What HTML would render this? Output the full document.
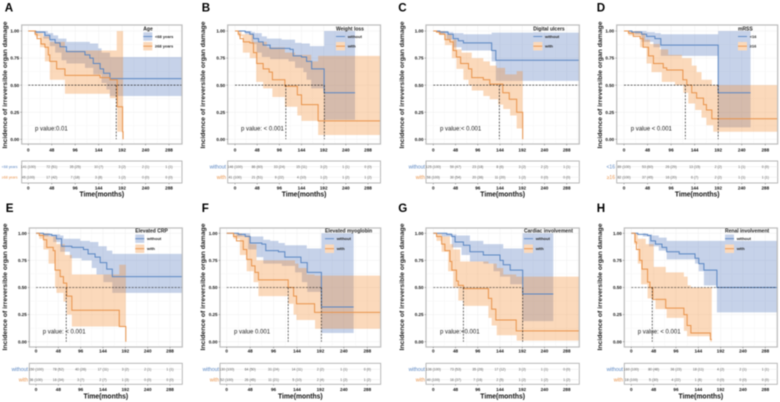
<!DOCTYPE html>
<html lang="en">
<head>
<meta charset="utf-8">
<title>Incidence of irreversible organ damage</title>
<style>
html,body{margin:0;padding:0;background:#fff;width:780px;height:402px;overflow:hidden}
svg{display:block;filter:blur(.42px)}
text{font-family:"Liberation Sans",sans-serif}
</style>
</head>
<body>
<svg id="figure" width="780" height="402" viewBox="0 0 780 402" xmlns="http://www.w3.org/2000/svg"></svg>
<script>
// Axis tick labels
const timeTicks = [0, 48, 96, 144, 192, 240, 288];
const incidenceTicks = [0, 0.25, 0.5, 0.75, 1];

// Panel A: Age
const A_blue_curve = [[0,1],[15,.99],[34,.96],[44,.92],[55,.89],[65,.855],[78,.81],[116,.78],[126,.75],[133,.70],[147,.65],[154,.61],[167,.56],[315,.55]];
const A_blue_upper = [[0,1],[40,.98],[51,.96],[61,.93],[78,.90],[126,.885],[143,.84],[150,.80],[167,.76],[315,.76]];
const A_blue_lower = [[0,1],[12,.98],[31,.93],[44,.86],[55,.80],[68,.73],[78,.70],[116,.66],[133,.60],[150,.52],[160,.46],[167,.40],[315,.40]];
const A_orange_curve = [[0,1],[14,.97],[18,.93],[26,.88],[34,.85],[41,.78],[44,.72],[58,.65],[75,.59],[147,.57],[167,.55],[182,.30],[193,.07],[194,0]];
const A_orange_upper = [[0,1],[18,.98],[30,.95],[44,.90],[75,.82],[181,1],[194,1]];
const A_orange_lower = [[0,1],[14,.95],[24,.85],[34,.72],[44,.55],[75,.42],[140,.42],[167,.38],[182,.07],[193,0],[194,0]];
const A_medians = [180];
const A_risk_blue = ["141 (100)","72 (51)","35 (25)","10 (7)","3 (2)","2 (1)","1 (1)"];
const A_risk_orange = ["45 (100)","17 (42)","7 (18)","3 (8)","1 (2)","0 (0)","0 (0)"];

// Panel B: Weight loss
const B_blue_curve = [[0,1],[22,.99],[32,.97],[40,.93],[51,.90],[61,.87],[76,.84],[119,.83],[126,.77],[144,.76],[155,.72],[166,.65],[193,.43],[260,.43]];
const B_blue_upper = [[0,1],[36,.99],[43,.98],[58,.95],[69,.93],[101,.92],[130,.89],[144,.885],[162,.86],[193,1],[260,1]];
const B_blue_lower = [[0,1],[22,.97],[36,.88],[47,.80],[58,.76],[76,.74],[116,.72],[130,.66],[148,.62],[155,.55],[165,.47],[193,.18],[260,.18]];
const B_orange_curve = [[0,1],[7,.97],[11,.93],[18,.90],[32,.89],[40,.80],[47,.70],[61,.65],[74,.62],[81,.55],[108,.49],[135,.41],[144,.32],[180,.17],[315,.17]];
const B_orange_upper = [[0,1],[14,.97],[40,.90],[69,.85],[108,.80],[130,.78],[165,.72],[180,.77],[315,.77]];
const B_orange_lower = [[0,1],[7,.95],[17,.80],[32,.75],[46,.53],[61,.47],[81,.39],[108,.30],[135,.22],[144,.17],[180,.04],[315,.04]];
const B_medians = [110,193.5];
const B_risk_blue = ["146 (100)","86 (60)","33 (24)","15 (11)","3 (2)","1 (1)","0 (0)"];
const B_risk_orange = ["41 (100)","21 (51)","9 (22)","4 (10)","1 (2)","1 (2)","1 (2)"];

// Panel C: Digital ulcers
const C_blue_curve = [[0,1],[14,.99],[32,.97],[43,.93],[54,.91],[65,.89],[126,.82],[135,.73],[315,.73]];
const C_blue_upper = [[0,1],[32,.99],[43,.98],[65,.97],[126,.985],[315,.985]];
const C_blue_lower = [[0,1],[14,.97],[29,.92],[43,.85],[61,.82],[126,.72],[135,.54],[315,.54]];
const C_orange_curve = [[0,1],[7,.99],[14,.97],[25,.92],[36,.90],[43,.82],[50,.76],[59,.70],[76,.65],[83,.57],[108,.55],[122,.51],[150,.43],[164,.37],[180,.25],[193,0]];
const C_orange_upper = [[0,1],[25,.97],[40,.92],[50,.83],[61,.80],[83,.75],[108,.72],[122,.68],[137,.66],[155,.60],[180,.63],[193,.63]];
const C_orange_lower = [[0,1],[11,.97],[25,.87],[40,.75],[50,.65],[65,.55],[76,.50],[83,.45],[108,.40],[122,.37],[140,.32],[151,.28],[166,.22],[180,.10],[193,0]];
const C_medians = [142.5];
const C_risk_blue = ["125 (100)","59 (47)","23 (18)","8 (6)","3 (2)","2 (2)","1 (1)"];
const C_risk_orange = ["56 (100)","30 (54)","20 (36)","11 (20)","1 (2)","0 (0)","0 (0)"];

// Panel D: mRSS
const D_blue_curve = [[0,1],[16,.99],[36,.97],[46,.95],[63,.93],[75,.87],[192,.43],[258,.43]];
const D_blue_upper = [[0,1],[46,.99],[63,.98],[75,.97],[192,1],[258,1]];
const D_blue_lower = [[0,1],[22,.97],[36,.90],[60,.85],[75,.77],[192,.11],[258,.11]];
const D_orange_curve = [[0,1],[9,.98],[19,.95],[33,.93],[39,.85],[50,.77],[60,.70],[80,.66],[87,.64],[120,.55],[128,.50],[138,.43],[148,.38],[162,.32],[168,.27],[179,.19],[315,.19]];
const D_orange_upper = [[0,1],[33,.98],[43,.92],[53,.88],[73,.83],[90,.78],[118,.75],[138,.68],[148,.62],[158,.55],[179,.50],[315,.50]];
const D_orange_lower = [[0,1],[9,.96],[33,.85],[46,.70],[56,.62],[77,.53],[104,.50],[121,.43],[131,.33],[145,.27],[158,.20],[168,.13],[182,.07],[315,.07]];
const D_medians = [125,192];
const D_risk_blue = ["89 (100)","53 (60)","26 (29)","13 (15)","2 (2)","1 (1)","0 (0)"];
const D_risk_orange = ["82 (100)","37 (45)","16 (20)","6 (7)","2 (2)","1 (1)","1 (1)"];

// Panel E: Elevated CRP
const E_blue_curve = [[0,1],[16,.99],[34,.98],[44,.95],[55,.88],[77,.87],[102,.85],[112,.81],[127,.78],[138,.73],[152,.67],[164,.60],[315,.60]];
const E_blue_upper = [[0,1],[30,.99],[52,.98],[59,.95],[95,.93],[116,.92],[134,.88],[152,.84],[164,.81],[315,.81]];
const E_blue_lower = [[0,1],[16,.97],[37,.92],[52,.83],[73,.77],[98,.75],[120,.68],[130,.62],[145,.55],[164,.45],[315,.45]];
const E_orange_curve = [[0,1],[7,.98],[16,.94],[23,.87],[37,.84],[41,.66],[52,.60],[59,.54],[66,.42],[77,.29],[179,.14],[193,0]];
const E_orange_upper = [[0,1],[27,.97],[44,.90],[62,.80],[77,.62],[179,.71],[193,.71]];
const E_orange_lower = [[0,1],[7,.95],[16,.85],[27,.72],[41,.50],[44,.45],[59,.37],[66,.25],[77,.14],[193,0]];
const E_medians = [65];
const E_risk_blue = ["150 (100)","78 (52)","40 (26)","17 (11)","3 (2)","2 (1)","1 (1)"];
const E_risk_orange = ["36 (100)","16 (34)","3 (7)","2 (7)","1 (3)","0 (0)","0 (0)"];

// Panel F: Elevated myoglobin
const F_blue_curve = [[0,1],[24,.99],[38,.97],[48,.91],[72,.90],[80,.84],[106,.83],[119,.78],[152,.73],[165,.64],[194,.32],[260,.32]];
const F_blue_upper = [[0,1],[48,.97],[75,.94],[89,.93],[106,.91],[119,.89],[164,.86],[194,1],[260,1]];
const F_blue_lower = [[0,1],[20,.97],[44,.85],[61,.78],[75,.72],[113,.70],[140,.64],[154,.55],[165,.46],[194,.08],[260,.08]];
const F_orange_curve = [[0,1],[14,.97],[20,.93],[34,.85],[41,.76],[51,.70],[58,.64],[65,.57],[126,.50],[137,.42],[143,.35],[180,.27],[315,.27]];
const F_orange_upper = [[0,1],[31,.98],[48,.90],[61,.75],[140,.72],[147,.68],[164,.62],[180,.61],[315,.61]];
const F_orange_lower = [[0,1],[14,.95],[27,.80],[41,.65],[55,.55],[65,.42],[126,.35],[137,.25],[143,.20],[181,.12],[315,.12]];
const F_medians = [126,194];
const F_risk_blue = ["130 (100)","64 (50)","31 (24)","14 (11)","2 (2)","1 (1)","0 (0)"];
const F_risk_orange = ["52 (100)","26 (45)","11 (21)","5 (10)","2 (4)","1 (2)","1 (2)"];

// Panel G: Cardiac involvement
const G_blue_curve = [[0,1],[29,.99],[40,.97],[47,.92],[65,.89],[79,.83],[108,.80],[144,.75],[151,.71],[166,.66],[193,.44],[259,.44]];
const G_blue_upper = [[0,1],[40,.99],[50,.98],[79,.93],[108,.90],[151,.86],[193,1],[259,1]];
const G_blue_lower = [[0,1],[18,.97],[40,.87],[61,.80],[79,.74],[108,.72],[130,.65],[144,.60],[166,.53],[193,.19],[259,.19]];
const G_orange_curve = [[0,1],[7,.97],[18,.90],[25,.84],[36,.74],[40,.66],[50,.56],[54,.52],[65,.49],[119,.40],[126,.30],[135,.20],[179,.10],[315,.10]];
const G_orange_upper = [[0,1],[18,.97],[36,.90],[43,.85],[58,.74],[119,.72],[137,.68],[151,.62],[179,.60],[315,.60]];
const G_orange_lower = [[0,1],[7,.93],[18,.83],[32,.65],[43,.50],[54,.38],[65,.33],[119,.22],[126,.15],[137,.06],[180,.01],[315,.01]];
const G_medians = [65,193];
const G_risk_blue = ["136 (100)","73 (53)","35 (26)","17 (12)","3 (2)","1 (1)","0 (0)"];
const G_risk_orange = ["40 (100)","16 (37)","7 (16)","2 (5)","1 (2)","1 (2)","1 (2)"];

// Panel H: Renal involvement
const H_blue_curve = [[0,1],[14,.99],[35,.98],[42,.93],[52,.90],[66,.87],[76,.83],[103,.81],[137,.77],[145,.72],[156,.66],[184,.50],[315,.50]];
const H_blue_upper = [[0,1],[31,.99],[45,.98],[59,.96],[76,.93],[315,.93]];
const H_blue_lower = [[0,1],[25,.97],[38,.88],[59,.84],[76,.76],[137,.72],[145,.65],[156,.52],[184,.27],[315,.27]];
const H_orange_curve = [[0,1],[8,.92],[11,.85],[18,.75],[23,.67],[35,.55],[40,.50],[46,.39],[74,.31],[113,.25],[120,.15],[128,.08],[170,.02],[173,.02]];
const H_orange_upper = [[0,1],[14,.95],[31,.90],[48,.69],[74,.64],[113,.60],[121,.52],[128,.50],[173,.50]];
const H_orange_lower = [[0,1],[6,.90],[14,.72],[21,.53],[35,.40],[52,.30],[76,.22],[113,.10],[120,.05],[170,0],[173,0]];
const H_medians = [45];
const H_risk_blue = ["160 (100)","80 (48)","36 (23)","18 (11)","4 (2)","2 (1)","1 (1)"];
const H_risk_orange = ["18 (100)","5 (30)","4 (22)","1 (6)","0 (0)","0 (0)","0 (0)"];

const panels = [
 {id:"A",title:"Age",names:["<68 years","≥68 years"],p:"p value:0.01",blue:[A_blue_curve,A_blue_upper,A_blue_lower],orange:[A_orange_curve,A_orange_upper,A_orange_lower],med:A_medians,risk:[A_risk_blue,A_risk_orange],
  row:0,left:21.7,right:182,x0:28.3,x288:169,letterX:4.7,yTitleX:7,legX:143.3,pX:35,hEnd:null,rowSize:3.6,rowEnd:17.5},
 {id:"B",title:"Weight loss",names:["without","with"],p:"p value: < 0.001",blue:[B_blue_curve,B_blue_upper,B_blue_lower],orange:[B_orange_curve,B_orange_upper,B_orange_lower],med:B_medians,risk:[B_risk_blue,B_risk_orange],
  row:0,left:227.7,right:380.5,x0:235,x288:368,letterX:201.7,yTitleX:205,legX:336,pX:241,hEnd:193.5,rowSize:5.2,rowEnd:226},
 {id:"C",title:"Digital ulcers",names:["without","with"],p:"p value:< 0.001",blue:[C_blue_curve,C_blue_upper,C_blue_lower],orange:[C_orange_curve,C_orange_upper,C_orange_lower],med:C_medians,risk:[C_risk_blue,C_risk_orange],
  row:0,left:426,right:579.3,x0:433.3,x288:566.7,letterX:398.3,yTitleX:404,legX:533.3,pX:440,hEnd:null,rowSize:5.2,rowEnd:425},
 {id:"D",title:"mRSS",names:["<16","≥16"],p:"p value < 0.001",blue:[D_blue_curve,D_blue_upper,D_blue_lower],orange:[D_orange_curve,D_orange_upper,D_orange_lower],med:D_medians,risk:[D_risk_blue,D_risk_orange],
  row:0,left:616.7,right:777.7,x0:624,x288:765.3,letterX:596.7,yTitleX:602,legX:738,pX:630.7,hEnd:192,rowSize:5,rowEnd:615},
 {id:"E",title:"Elevated CRP",names:["without","with"],p:"p value: < 0.001",blue:[E_blue_curve,E_blue_upper,E_blue_lower],orange:[E_orange_curve,E_orange_upper,E_orange_lower],med:E_medians,risk:[E_risk_blue,E_risk_orange],
  row:1,left:29.3,right:182.3,x0:36,x288:170,letterX:5.7,yTitleX:7,legX:135.3,pX:42.7,hEnd:null,rowSize:5.2,rowEnd:28},
 {id:"F",title:"Elevated myoglobin",names:["without","with"],p:"p value 0.001",blue:[F_blue_curve,F_blue_upper,F_blue_lower],orange:[F_orange_curve,F_orange_upper,F_orange_lower],med:F_medians,risk:[F_risk_blue,F_risk_orange],
  row:1,left:220,right:380.7,x0:226.7,x288:367.3,letterX:201.7,yTitleX:205,legX:325,pX:234,hEnd:194,rowSize:5.2,rowEnd:219},
 {id:"G",title:"Cardiac involvement",names:["without","with"],p:"p value:<0.001",blue:[G_blue_curve,G_blue_upper,G_blue_lower],orange:[G_orange_curve,G_orange_upper,G_orange_lower],med:G_medians,risk:[G_risk_blue,G_risk_orange],
  row:1,left:426,right:579.3,x0:433.3,x288:566.7,letterX:398.3,yTitleX:404,legX:524,pX:440,hEnd:193,rowSize:5.2,rowEnd:425},
 {id:"H",title:"Renal involvement",names:["without","with"],p:"p value: < 0.001",blue:[H_blue_curve,H_blue_upper,H_blue_lower],orange:[H_orange_curve,H_orange_upper,H_orange_lower],med:H_medians,risk:[H_risk_blue,H_risk_orange],
  row:1,left:624.3,right:777.3,x0:631.3,x288:765.3,letterX:596.7,yTitleX:602,legX:725,pX:637.7,hEnd:null,rowSize:5.2,rowEnd:623}
];

const rows = [
 {top:25,bottom:144,y1:31,y0:139.3,tickBase:151.7,riskTop:161,riskBottom:183,riskA:166.7,riskB:177.3,riskTick:189.5,titleBase:196.3,letterBase:11.7,yCenter:85,legTitle:30.6,key1:32.3,key2:42,pBase:130.5},
 {top:228,bottom:347,y1:233.3,y0:341.7,tickBase:352.4,riskTop:363.3,riskBottom:384.3,riskA:369.3,riskB:379.7,riskTick:391,titleBase:398.6,letterBase:212,yCenter:287,legTitle:232.4,key1:234.5,key2:244.5,pBase:333.5}
];

const BLUE = "#5a86c2", ORANGE = "#e8924a";
const BLUE_BAND = "rgba(72,110,185,.31)", ORANGE_BAND = "rgba(243,140,50,.33)";
const NS = "http://www.w3.org/2000/svg";
const root = document.getElementById("figure");

function make(parent, tag, attrs, txt) {
  const el = document.createElementNS(NS, tag);
  for (const k in attrs) el.setAttribute(k, attrs[k]);
  if (txt !== undefined) el.textContent = txt;
  parent.appendChild(el);
  return el;
}
function stepD(pts, sx, sy) {
  let d = "M" + sx(pts[0][0]) + " " + sy(pts[0][1]);
  for (let i = 1; i < pts.length; i++) {
    d += "H" + sx(pts[i][0]) + "V" + sy(pts[i][1]);
  }
  return d;
}
function bandD(up, low, sx, sy) {
  const rev = low.slice().reverse();
  let d = stepD(up, sx, sy);
  d += "V" + sy(rev[0][1]);
  for (let i = 0; i < rev.length - 1; i++) {
    d += "H" + sx(rev[i][0]) + "V" + sy(rev[i + 1][1]);
  }
  d += "H" + sx(rev[rev.length - 1][0]) + "Z";
  return d;
}

panels.forEach(function (p) {
  const r = rows[p.row];
  const sx = function (t) { return +(p.x0 + (p.x288 - p.x0) * t / 288).toFixed(2); };
  const sy = function (v) { return +(r.y0 + (r.y1 - r.y0) * v).toFixed(2); };
  const low = p.id.toLowerCase();

  const g = make(root, "g", {});
  
  

  const letter = make(g, "text", {x: p.letterX, y: r.letterBase, "font-size": 11.6, "font-weight": 700, fill: "#000"}, p.id);
  
  

  const clip = make(g, "clipPath", {id: "clip" + p.id});
  make(clip, "rect", {x: p.left, y: r.top, width: p.right - p.left, height: r.bottom - r.top});

  const bg = make(g, "rect", {x: p.left, y: r.top, width: p.right - p.left, height: r.bottom - r.top, fill: "#fff"});
  
  

  // grid
  const grid = make(g, "g", {stroke: "#eeeeee", "stroke-width": .5, "clip-path": "url(#clip" + p.id + ")"});
  
  
  timeTicks.forEach(function (t) {
    make(grid, "line", {x1: sx(t), x2: sx(t), y1: r.top, y2: r.bottom});
    make(grid, "line", {x1: sx(t + 24), x2: sx(t + 24), y1: r.top, y2: r.bottom, stroke: "#f6f6f6"});
  });
  incidenceTicks.forEach(function (v) {
    make(grid, "line", {x1: p.left, x2: p.right, y1: sy(v), y2: sy(v)});
    make(grid, "line", {x1: p.left, x2: p.right, y1: sy(v + .125), y2: sy(v + .125), stroke: "#f6f6f6"});
  });

  // bands & curves
  const plot = make(g, "g", {"clip-path": "url(#clip" + p.id + ")"});
  
  

  const b1 = make(plot, "path", {d: bandD(p.blue[1], p.blue[2], sx, sy), fill: BLUE_BAND});
  
  
  const b2 = make(plot, "path", {d: bandD(p.orange[1], p.orange[2], sx, sy), fill: ORANGE_BAND});
  
  

  const c1 = make(plot, "path", {d: stepD(p.blue[0], sx, sy), fill: "none", stroke: BLUE, "stroke-width": 1});
  
  
  const c2 = make(plot, "path", {d: stepD(p.orange[0], sx, sy), fill: "none", stroke: ORANGE, "stroke-width": 1});
  
  

  // median reference lines
  const hx2 = p.hEnd === null ? p.right : sx(p.hEnd);
  const hl = make(plot, "line", {x1: p.x0, x2: hx2, y1: sy(.5), y2: sy(.5), stroke: "#111", "stroke-width": .6, "stroke-dasharray": "2 1.3"});
  
  
  p.med.forEach(function (m) {
    const vl = make(plot, "line", {x1: sx(m), x2: sx(m), y1: sy(.5), y2: sy(0), stroke: "#111", "stroke-width": .6, "stroke-dasharray": "2 1.3"});
    
    
  });

  // border
  const border = make(g, "rect", {x: p.left, y: r.top, width: p.right - p.left, height: r.bottom - r.top, fill: "none", stroke: "#bcbcbc", "stroke-width": 1.2});
  
  

  // y axis
  incidenceTicks.forEach(function (v) {
    const t = make(g, "line", {x1: p.left - 1.5, x2: p.left, y1: sy(v), y2: sy(v), stroke: "#555", "stroke-width": .4});
    
    
    const l = make(g, "text", {x: p.left - 2.5, y: sy(v) + 1.6, "font-size": 4.5, "font-weight": 700, "text-anchor": "end", fill: "#111"}, v.toFixed(2));
    
    
  });
  const yt = make(g, "text", {x: 0, y: 0, "font-size": 6.6, "font-weight": 700, "text-anchor": "middle", fill: "#222", textLength: 127, lengthAdjust: "spacingAndGlyphs", transform: "translate(" + p.yTitleX + " " + r.yCenter + ") rotate(-90)"}, "Incidence of irreversible organ damage");
  
  

  // x axis
  timeTicks.forEach(function (t) {
    const tk = make(g, "line", {x1: sx(t), x2: sx(t), y1: r.bottom, y2: r.bottom + 1.5, stroke: "#555", "stroke-width": .4});
    
    
    const l = make(g, "text", {x: sx(t), y: r.tickBase, "font-size": 4.6, "font-weight": 700, "text-anchor": "middle", fill: "#111"}, String(t));
    
    
  });

  // p value
  const pv = make(g, "text", {x: p.pX, y: r.pBase, "font-size": 6, fill: "#222"}, p.p);
  
  

  // legend
  const leg = make(g, "g", {});
  
  
  const lt = make(leg, "text", {x: p.legX, y: r.legTitle, "font-size": 5, "font-weight": 700, fill: "#222"}, p.title);
  
  
  [[r.key1, BLUE_BAND, BLUE], [r.key2, ORANGE_BAND, ORANGE]].forEach(function (k, i) {
    const entry = make(leg, "g", {});
    
    
    make(entry, "rect", {x: p.legX, y: k[0], width: 9, height: 8.4, fill: "#fff"});
    make(entry, "rect", {x: p.legX, y: k[0], width: 9, height: 8.4, fill: k[1]});
    make(entry, "line", {x1: p.legX, x2: p.legX + 9, y1: k[0] + 4.2, y2: k[0] + 4.2, stroke: k[2], "stroke-width": .9});
    make(entry, "text", {x: p.legX + 11.7, y: k[0] + 5.6, "font-size": 4, "font-weight": 700, fill: "#222"}, p.names[i]);
  });

  // risk table
  const tbl = make(g, "g", {});
  
  
  const box = make(tbl, "rect", {x: p.left, y: r.riskTop, width: p.right - p.left, height: r.riskBottom - r.riskTop, fill: "#fff", stroke: "#a8a8a8", "stroke-width": .8});
  
  
  timeTicks.forEach(function (t) {
    make(tbl, "line", {x1: sx(t), x2: sx(t), y1: r.riskTop, y2: r.riskBottom, stroke: "#f0f0f0", "stroke-width": .4});
    make(tbl, "line", {x1: sx(t), x2: sx(t), y1: r.riskBottom, y2: r.riskBottom + 1.5, stroke: "#555", "stroke-width": .4});
    const l = make(tbl, "text", {x: sx(t), y: r.riskTick, "font-size": 4.6, "font-weight": 700, "text-anchor": "middle", fill: "#111"}, String(t));
    
    
  });
  [[r.riskA, BLUE, p.risk[0], 0], [r.riskB, ORANGE, p.risk[1], 1]].forEach(function (w) {
    make(tbl, "line", {x1: p.left, x2: p.right, y1: w[0], y2: w[0], stroke: "#e4e4e4", "stroke-width": .4});
    const rl = make(tbl, "text", {x: p.rowEnd, y: w[0] + p.rowSize * .36, "font-size": p.rowSize, "text-anchor": "end", fill: w[1]}, p.names[w[3]]);
    
    
    w[2].forEach(function (s, i) {
      const c = make(tbl, "text", {x: sx(timeTicks[i]), y: w[0] + 1.3, "font-size": 3.5, "text-anchor": "middle", fill: "#555"}, s);
      
      
    });
  });

  // x title
  const xt = make(g, "text", {x: (p.left + p.right) / 2, y: r.titleBase, "font-size": 7.2, "font-weight": 700, "text-anchor": "middle", fill: "#111", textLength: 44.7, lengthAdjust: "spacingAndGlyphs"}, "Time(months)");
  
  
});
</script>
</body>
</html>
